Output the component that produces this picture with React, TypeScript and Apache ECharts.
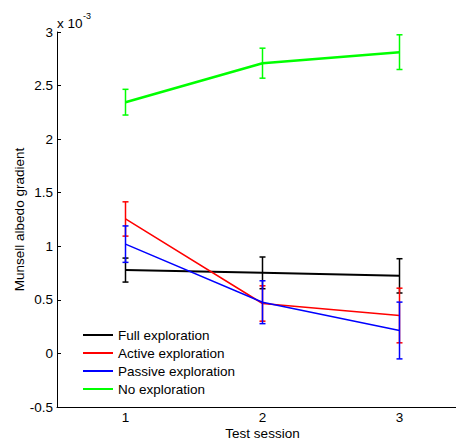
import React, { useEffect, useRef } from "react";
import * as echarts from "echarts";

const categories = ["1", "2", "3"];
const seriesNames = ["Full exploration", "Active exploration", "Passive exploration", "No exploration"];
const seriesColors = ["#000000", "#ff0000", "#0000ff", "#00ff00"];
const fullMean = [0.778, 0.752, 0.724];
const fullErr = [0.112, 0.148, 0.16];
const activeMean = [1.255, 0.466, 0.354];
const activeErr = [0.16, 0.165, 0.255];
const passiveMean = [1.02, 0.478, 0.214];
const passiveErr = [0.17, 0.2, 0.265];
const noneMean = [2.345, 2.709, 2.812];
const noneErr = [0.12, 0.14, 0.162];

const means = [fullMean, activeMean, passiveMean, noneMean];
const errs = [fullErr, activeErr, passiveErr, noneErr];
const lineWidths = [2, 1.5, 1.5, 2.5];

const FONT = "'Liberation Sans', Arial, Helvetica, sans-serif";
const FS = 13.5;

export default function App() {
  const ref = useRef<HTMLDivElement>(null);
  useEffect(() => {
    if (!ref.current) return;
    const chart = echarts.init(ref.current, undefined, { renderer: "svg" });
    const lineSeries = seriesNames.map((name, k) => ({
      name,
      type: "line",
      data: means[k],
      symbol: "none",
      lineStyle: { color: seriesColors[k], width: lineWidths[k] },
      itemStyle: { color: seriesColors[k] },
      z: 2 + k,
    }));
    const errSeries = seriesNames.map((name, k) => ({
      name: "err_" + k,
      type: "custom",
      z: 2 + k,
      data: categories.map((c, i) => [i, means[k][i], errs[k][i]]),
      encode: { x: 0, y: 1 },
      renderItem: (params: any, api: any) => {
        const x = api.value(0);
        const m = api.value(1);
        const e = api.value(2);
        const top = api.coord([x, m + e]);
        const bot = api.coord([x, m - e]);
        const w = 3;
        const style = { stroke: seriesColors[k], lineWidth: 1.5 };
        return {
          type: "group",
          children: [
            { type: "line", shape: { x1: top[0], y1: top[1], x2: bot[0], y2: bot[1] }, style },
            { type: "line", shape: { x1: top[0] - w, y1: top[1], x2: top[0] + w, y2: top[1] }, style },
            { type: "line", shape: { x1: bot[0] - w, y1: bot[1], x2: bot[0] + w, y2: bot[1] }, style },
          ],
        };
      },
    }));
    chart.setOption({
      animation: false,
      textStyle: { fontFamily: FONT },
      grid: { left: 57, top: 32, right: -12, bottom: 32, containLabel: false, outerBoundsMode: "none" },
      legend: {
        data: seriesNames.map((n, k) => ({ name: n, itemStyle: { color: seriesColors[k] } })),
        orient: "vertical",
        left: 83,
        top: 326,
        icon: "rect",
        itemWidth: 30,
        itemHeight: 2,
        itemGap: 0,
        padding: 0,
        textStyle: { fontSize: FS, color: "#000", lineHeight: 18, fontFamily: FONT },
      },
      xAxis: {
        type: "category",
        data: categories,
        boundaryGap: true,
        name: "Test session",
        nameLocation: "middle",
        nameGap: 19,
        nameMoveOverlap: false,
        nameTextStyle: { fontSize: FS, color: "#000", fontFamily: FONT },
        axisLine: { onZero: false, lineStyle: { color: "#000", width: 1 } },
        axisTick: { inside: true, alignWithLabel: true, length: 4, lineStyle: { color: "#000" } },
        axisLabel: { color: "#000", fontSize: FS, margin: 3, fontFamily: FONT },
        splitLine: { show: false },
      },
      yAxis: {
        type: "value",
        min: -0.5,
        max: 3,
        interval: 0.5,
        name: "Munsell albedo gradient",
        nameLocation: "middle",
        nameGap: 31,
        nameMoveOverlap: false,
        nameTextStyle: { fontSize: FS, color: "#000", fontFamily: FONT },
        axisLine: { show: true, onZero: false, lineStyle: { color: "#000", width: 1 } },
        axisTick: { show: true, inside: true, length: 4, lineStyle: { color: "#000" } },
        axisLabel: { color: "#000", fontSize: FS, margin: 4, fontFamily: FONT },
        splitLine: { show: false },
      },
      graphic: [
        { type: "text", left: 57, top: 16, style: { text: "x 10", fontSize: FS, fill: "#000", fontFamily: FONT } },
        { type: "text", left: 83, top: 11, style: { text: "-3", fontSize: 9, fill: "#000", fontFamily: FONT } },
      ],
      series: [...lineSeries, ...errSeries],
    });
    return () => chart.dispose();
  }, []);
  return (
    <div
      ref={ref}
      style={{ position: "fixed", left: 0, top: 0, width: 456, height: 439, background: "#fff" }}
    />
  );
}
